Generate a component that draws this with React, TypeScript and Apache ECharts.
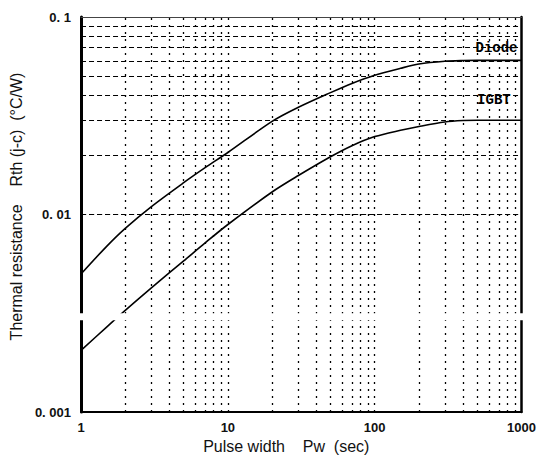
import React, { useEffect, useRef } from "react";
import * as echarts from "echarts";

// Pulse width (sec)
const pulseWidth = [1, 1.5, 2, 3, 5, 7, 10, 20, 30, 50, 70, 100, 150, 200, 300, 400, 500, 1000];
// Thermal resistance Rth(j-c) (°C/W)
const diodeRth = [0.005, 0.00692, 0.00851, 0.01094, 0.01449, 0.01726, 0.0206, 0.0296, 0.0348, 0.0414, 0.0461, 0.0507, 0.055, 0.0578, 0.0597, 0.0602, 0.0603, 0.0603];
const igbtRth = [0.00205, 0.0027, 0.00327, 0.00424, 0.00582, 0.00718, 0.0089, 0.013, 0.0157, 0.0196, 0.0223, 0.0248, 0.0267, 0.0279, 0.0294, 0.0299, 0.03, 0.03];

const xTickLabels = ["1", "10", "100", "1000"];
const yTickLabels = ["0. 001", "0. 01", "0. 1"];

const xGridValues = [2, 3, 4, 5, 6, 7, 8, 9, 10, 20, 30, 40, 50, 60, 70, 80, 90, 100, 200, 300, 400, 500, 600, 700, 800, 900];
const yGridValues = [0.002, 0.003, 0.004, 0.005, 0.006, 0.007, 0.008, 0.009, 0.01, 0.02, 0.03, 0.04, 0.05, 0.06, 0.07, 0.08, 0.09];

// label anchor positions in data coordinates
const diodeLabelAt = [675, 0.0697];
const igbtLabelAt = [648, 0.038];

export default function App() {
  const ref = useRef<HTMLDivElement>(null);
  useEffect(() => {
    document.body.style.margin = "0";
    if (!ref.current) return;
    const chart = echarts.init(ref.current, null, { renderer: "svg" });
    const gridLeft = 70;
    const gridRight = 11;
    const gridTop = 17;
    const gridBottom = 48;
    const tickFont = { fontFamily: "Liberation Sans", fontWeight: "bold" as const, fontSize: 13, color: "#111" };
    const nameFont = { fontFamily: "Liberation Sans", fontSize: 16, color: "#111" };
    const curveLabel = { fontFamily: "Liberation Mono", fontWeight: "bold" as const, fontSize: 14, color: "#000" };

    const markLineData = [
      ...xGridValues.map((v) => ({ xAxis: v, lineStyle: { type: [2, 5] as any, color: "#000", width: 1.3 } })),
      ...yGridValues.map((v) => ({ yAxis: v, lineStyle: { type: [5, 3] as any, color: "#000", width: 1 } })),
    ];

    chart.setOption({
      animation: false,
      backgroundColor: "#fff",
      grid: { left: gridLeft, right: gridRight, top: gridTop, bottom: gridBottom },
      xAxis: [
        {
          type: "log",
          logBase: 10,
          min: 1,
          max: 1000,
          axisLine: { onZero: false, lineStyle: { color: "#000", width: 2 } },
          axisTick: { show: false },
          splitLine: { show: false },
          axisLabel: {
            ...tickFont,
            margin: 9,
            formatter: (v: number) => xTickLabels[Math.round(Math.log10(v))] ?? "",
          },
          name: "Pulse width    Pw  (sec)",
          nameLocation: "middle",
          nameGap: 22,
          nameTextStyle: { ...nameFont, padding: [0, 30, 0, 0] },
        },
        {
          type: "log",
          logBase: 10,
          min: 1,
          max: 1000,
          position: "top",
          axisLine: { onZero: false, lineStyle: { color: "#444", width: 1 } },
          axisTick: { show: false },
          splitLine: { show: false },
          axisLabel: { show: false },
        },
      ],
      yAxis: [
        {
          type: "log",
          logBase: 10,
          min: 0.001,
          max: 0.1,
          axisLine: { onZero: false, lineStyle: { color: "#000", width: 3 } },
          axisTick: { show: false },
          splitLine: { show: false },
          axisLabel: {
            ...tickFont,
            margin: 10,
            formatter: (v: number) => yTickLabels[Math.round(Math.log10(v)) + 3] ?? "",
          },
          name: "Thermal resistance    Rth (j-c)  (°C/W)",
          nameLocation: "middle",
          nameRotate: 90,
          nameGap: 49,
          nameTextStyle: { ...nameFont, padding: [0, 0, 0, 16] },
        },
        {
          type: "log",
          logBase: 10,
          min: 0.001,
          max: 0.1,
          position: "right",
          axisLine: { onZero: false, lineStyle: { color: "#000", width: 2.5 } },
          axisTick: { show: false },
          splitLine: { show: false },
          axisLabel: { show: false },
        },
      ],
      series: [
        {
          name: "grid",
          type: "line",
          data: [],
          silent: true,
          z: 1,
          markLine: {
            silent: true,
            z: 1,
            symbol: ["none", "none"],
            label: { show: false },
            emphasis: { disabled: true },
            data: markLineData,
          },
        },
        {
          name: "Diode",
          type: "line",
          z: 3,
          data: pulseWidth.map((x, i) => [x, diodeRth[i]]),
          showSymbol: false,
          smooth: 0.3,
          lineStyle: { color: "#000", width: 1.6 },
          markPoint: {
            z: 6,
            symbol: "circle",
            symbolSize: 0,
            silent: true,
            label: { show: true, position: "inside", formatter: "Diode", ...curveLabel },
            data: [{ coord: diodeLabelAt }],
          },
        },
        {
          name: "IGBT",
          type: "line",
          z: 3,
          data: pulseWidth.map((x, i) => [x, igbtRth[i]]),
          showSymbol: false,
          smooth: 0.3,
          lineStyle: { color: "#000", width: 1.6 },
          markPoint: {
            z: 6,
            symbol: "circle",
            symbolSize: 0,
            silent: true,
            label: { show: true, position: "inside", formatter: "IGBT", ...curveLabel },
            data: [{ coord: igbtLabelAt }],
          },
        },
      ],
    });

    // scan artifact: a thin blank band across the plot near 0.003
    const yBand = chart.convertToPixel({ yAxisIndex: 0 }, 0.003) as number;
    const width = ref.current.clientWidth;
    chart.setOption({
      graphic: [
        {
          type: "rect",
          z: 100,
          silent: true,
          shape: { x: gridLeft - 4, y: yBand - 4.5, width: width - gridLeft - gridRight + 8, height: 7 },
          style: { fill: "#fff" },
        },
      ],
    });

    return () => chart.dispose();
  }, []);
  return <div ref={ref} style={{ width: 539, height: 460 }} />;
}
